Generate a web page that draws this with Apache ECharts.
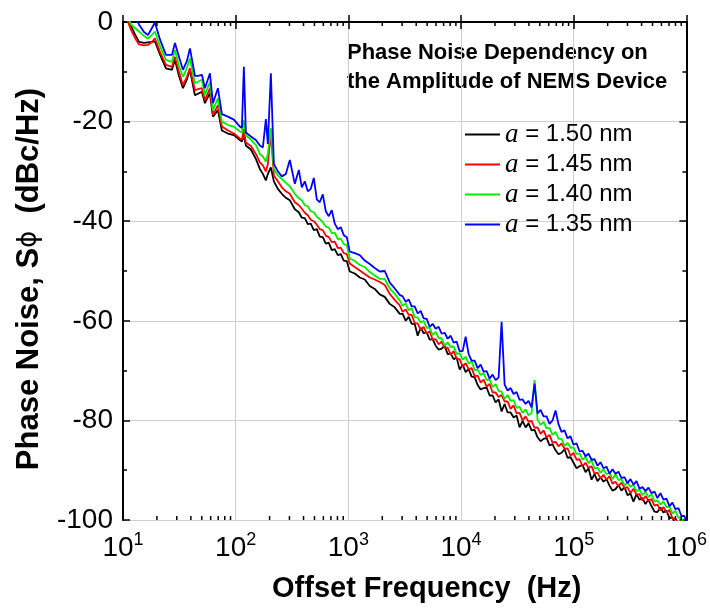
<!DOCTYPE html>
<html><head><meta charset="utf-8">
<script src="https://cdn.jsdelivr.net/npm/echarts@6/dist/echarts.min.js"></script>
<style>html,body{margin:0;padding:0;background:#fff}#c{width:710px;height:608px}</style>
</head><body><div id="c"></div>
<script>
// Offset frequency (Hz)
const freqs = [10, 11.07, 11.77, 12.78, 13.86, 15.36, 16.66, 18.07, 19.21, 21.28,
  24.06, 27.19, 28.91, 31.37, 34.03, 36.93, 39.26, 43.49, 46.23, 50.17,
  53.33, 59.08, 62.81, 69.55, 75.45, 85.29, 96.4, 108.9, 113.5, 118.2,
  123.1, 136.4, 151.1, 163.9, 174.3, 185.3, 193.0, 205.2, 218.2, 236.7,
  256.8, 278.6, 302.3, 334.8,
  363.3, 386.2, 410.6, 436.6, 464.1, 493.4, 524.6, 557.7, 592.9, 630.4,
  670.2, 712.5, 757.5, 805.4, 856.2, 910.3, 967.8,
  1029, 1140, 1262, 1398, 1548, 1714, 1899, 2103, 2328, 2578, 2856,
  3035, 3227, 3431, 3647, 3878, 4123, 4383, 4660, 4954, 5267,
  5600, 5953, 6329, 6729, 7154, 7606, 8086, 8597, 9140, 9717,
  10330, 10983, 11677, 12414, 13198, 14032, 14918, 15860, 16862, 17927,
  19059, 20263, 21543, 22903, 24350, 25888, 27523, 29261, 31109, 33074,
  35163, 37384, 39745, 42255, 44924, 47761, 50778, 53985, 57395, 61020,
  64874, 68971, 73327, 77958, 82882, 88117, 93682, 99599, 105890, 112578,
  119688, 127247, 135284, 143828, 152912, 162570, 172838, 183754, 195360, 207698,
  220816, 234763, 249590, 265354, 282113, 299931, 318874, 339014, 360425, 383189,
  407391, 433121, 460476, 489560, 520480, 553353, 588302, 625458, 664961, 706959,
  751610, 799080, 849550, 903207, 960252, 1000000];

// Phase noise (dBc/Hz), one list per oscillation amplitude
const noise150 = [3.0, 0.8, -0.8, -2.5, -4.0, -4.2, -4.1, -4.0, -3.9, -6.5,
  -9.3, -9.6, -7.6, -10.8, -13.3, -11.5, -9.6, -14.7, -14.4, -14.0,
  -16.3, -14.3, -19.0, -17.7, -21.8, -22.4, -22.7, -23.7, -24.0, -22.8,
  -24.8, -25.6, -27.5, -29.5, -30.5, -31.8, -30.5, -29.2, -32.0, -33.5,
  -34.5, -35.3, -35.8, -37.6,
  -38.2, -39.3, -39.4, -40.6, -40.5, -41.8, -41.6, -43.1, -43.2, -44.5,
  -44.3, -45.8, -45.6, -46.8, -46.6, -47.9, -48.0,
  -50.1, -50.5, -51.3, -51.7, -53.0, -53.6, -54.7, -55.2, -56.6, -57.3, -58.6,
  -58.6, -60.0, -59.2, -60.6, -60.6, -63.0, -61.4, -62.5, -62.3, -63.8,
  -63.7, -65.0, -65.8, -65.6, -65.0, -66.7, -66.6, -67.7, -67.4, -69.8,
  -68.8, -70.3, -69.7, -71.2, -71.3, -72.9, -73.8, -73.5, -73.4, -75.0,
  -75.0, -76.4, -75.8, -78.2, -76.7, -78.4, -78.4, -79.4, -79.0, -81.4,
  -80.1, -81.4, -80.6, -82.0, -81.9, -83.4, -84.2, -83.7, -83.5, -85.0,
  -84.8, -86.0, -86.8, -86.5, -85.8, -87.5, -87.4, -88.5, -89.6, -89.2,
  -89.0, -90.4, -89.6, -91.9, -90.8, -92.2, -91.4, -92.3, -91.8, -93.1,
  -94.1, -93.8, -93.0, -94.1, -93.4, -95.0, -94.7, -96.3, -94.8, -95.9,
  -95.6, -96.8, -95.9, -97.2, -98.3, -98.4, -97.5, -98.5, -98.1, -99.6,
  -99.5, -100.9, -100.3, -101.7, -101.3, -102.8];
const noise145 = [2.5, 0, -1.6, -3.2, -4.5, -4.7, -4.6, -4.0, -3.3, -6.0,
  -8.6, -9.0, -7.0, -10.0, -12.7, -11.0, -9.3, -13.7, -13.5, -13.3,
  -15.7, -13.3, -18.7, -16.7, -21.0, -21.8, -22.4, -23.4, -23.6, -21.5,
  -24.2, -24.9, -26.5, -28.2, -28.8, -30.0, -28.5, -22.3, -30.8, -32.0,
  -33.2, -34.0, -34.5, -36.2,
  -36.8, -37.5, -38.3, -38.8, -39.7, -40.0, -40.7, -41.6, -41.8, -42.9,
  -43.2, -44.2, -44.1, -45.4, -45.3, -46.4, -46.6,
  -48.5, -49.2, -49.9, -50.6, -51.3, -51.7, -52.2, -52.8, -54.6, -55.8, -56.9,
  -58.2, -57.7, -58.8, -58.8, -60.5, -60.5, -61.8, -61.2, -62.6, -62.1,
  -63.8, -63.7, -64.7, -64.2, -65.5, -65.4, -66.8, -66.1, -67.6, -67.7,
  -69.2, -68.5, -69.7, -69.5, -71.1, -71.0, -72.4, -71.8, -73.2, -72.7,
  -74.4, -74.4, -75.3, -74.9, -76.2, -76.2, -77.7, -77.0, -78.6, -78.5,
  -80.0, -79.2, -80.3, -80.1, -81.5, -81.4, -82.7, -82.0, -83.4, -82.9,
  -84.5, -84.3, -85.2, -84.6, -85.7, -85.6, -87.1, -86.5, -87.9, -87.8,
  -89.2, -88.5, -89.5, -89.2, -90.7, -90.5, -91.7, -90.9, -91.9, -91.2,
  -92.7, -92.3, -93.2, -92.5, -93.6, -93.4, -94.6, -93.7, -94.9, -94.8,
  -96.1, -95.2, -96.1, -95.8, -97.1, -96.9, -98.1, -97.4, -98.5, -98.0,
  -99.7, -99.7, -100.7, -100.3, -101.7, -102.2];
const noise140 = [3.5, 0.8, -0.5, -1.2, -1.9, -2.8, -3.3, -2.6, -1.9, -4.8,
  -7.6, -8.0, -5.6, -8.8, -11.0, -9.2, -7.3, -12.3, -12.0, -11.6,
  -14.7, -12.0, -17.7, -15.3, -20.0, -20.7, -21.0, -22.0, -22.2, -19.7,
  -22.8, -23.6, -24.7, -26.5, -27.0, -28.0, -26.5, -21.3, -29.5, -30.8,
  -31.5, -32.3, -33.0, -34.5,
  -35.4, -35.8, -36.8, -37.0, -38.0, -38.2, -39.1, -39.6, -40.2, -41.1,
  -41.3, -42.4, -42.3, -43.6, -43.5, -44.6, -44.8,
  -47.5, -48.0, -48.8, -49.2, -50.2, -50.9, -51.6, -51.6, -53.5, -54.6, -55.9,
  -57.0, -56.5, -57.9, -57.5, -59.3, -59.3, -60.4, -60.0, -61.4, -61.4,
  -62.9, -62.2, -63.5, -63.5, -65.0, -64.3, -65.3, -65.1, -66.7, -66.5,
  -67.8, -67.2, -68.6, -68.1, -69.9, -69.8, -70.9, -70.5, -71.9, -71.8,
  -73.3, -72.7, -74.1, -74.2, -75.7, -74.9, -76.1, -75.9, -77.5, -77.3,
  -78.5, -77.8, -79.0, -78.5, -71.9, -79.9, -80.9, -80.3, -81.6, -81.5,
  -82.9, -82.3, -83.7, -83.7, -85.1, -84.5, -85.5, -85.4, -86.8, -86.6,
  -87.9, -87.3, -88.6, -88.0, -89.7, -89.5, -90.5, -89.8, -90.8, -90.5,
  -91.8, -90.8, -92.0, -91.8, -93.1, -92.4, -93.3, -92.9, -94.2, -93.9,
  -95.0, -94.3, -95.4, -94.8, -96.3, -96.1, -96.9, -96.3, -97.4, -97.3,
  -98.7, -98.1, -99.5, -99.6, -101.2, -101.5];
const noise135 = [5.0, 4.0, 3.0, 1.2, -0.5, -2.0, -2.6, -1.2, -0.1, -3.5,
  -6.6, -6.6, -4.2, -7.0, -9.6, -7.8, -5.3, -10.8, -10.8, -10.6,
  -13.3, -10.3, -16.3, -13.3, -18.5, -19.0, -19.6, -21.0, -21.3, -9.0,
  -22.2, -23.0, -23.7, -24.8, -25.2, -19.5, -24.5, -10.3, -28.5, -30.0,
  -31.0, -30.5, -27.7, -32.5,
  -29.7, -33.2, -32.0, -34.0, -33.5, -31.3, -35.6, -36.2, -34.6, -38.0,
  -39.0, -37.8, -40.5, -41.6, -41.2, -42.8, -43.2,
  -46.1, -46.4, -46.8, -47.9, -48.6, -49.4, -50.1, -50.0, -52.3, -53.5, -54.8,
  -55.1, -56.2, -55.7, -57.1, -57.1, -58.5, -58.0, -59.5, -59.6, -61.2,
  -60.6, -61.6, -61.2, -62.6, -62.4, -63.6, -63.0, -64.4, -64.2, -66.1,
  -66.1, -63.2, -66.7, -68.0, -68.0, -69.5, -68.8, -70.2, -70.1, -71.6,
  -70.8, -71.9, -71.4, -60.2, -72.8, -74.0, -73.5, -74.7, -74.3, -75.9,
  -75.8, -76.7, -76.1, -77.4, -72.6, -78.6, -77.9, -79.2, -79.2, -80.7,
  -80.0, -78.0, -80.8, -82.3, -82.0, -83.6, -83.2, -84.9, -84.6, -86.2,
  -86.1, -87.2, -86.7, -87.9, -87.8, -89.1, -88.4, -89.6, -89.3, -90.7,
  -89.8, -90.7, -90.3, -91.6, -91.4, -92.6, -91.8, -92.9, -92.2, -93.7,
  -93.4, -94.2, -93.5, -94.6, -94.3, -95.6, -94.6, -95.9, -95.7, -97.2,
  -96.5, -97.8, -97.6, -99.2, -99.2, -100.4];

const amplitudes = ['1.50', '1.45', '1.40', '1.35'];
const seriesValues = [noise150, noise145, noise140, noise135];
const colors = ['#000000', '#ff0000', '#00ee00', '#0000ff'];

const xTickExponents = [1, 2, 3, 4, 5, 6];
const yTicks = [0, -20, -40, -60, -80, -100];
const minorMultipliers = [2, 3, 4, 5, 6, 7, 8, 9];
const minorDecades = [10, 100, 1000, 10000, 100000];

seriesValues.forEach((arr, i) => {
  if (arr.length !== freqs.length) throw new Error('length mismatch ' + i + ': ' + arr.length + ' vs ' + freqs.length);
});

const minorTicks = [];
minorDecades.forEach(d => minorMultipliers.forEach(m => minorTicks.push([m * d, -100])));

const SANS = 'Liberation Sans, Arial, Helvetica, sans-serif';
const SERIF = 'Liberation Serif, Times New Roman, serif';

const chart = echarts.init(document.getElementById('c'), null, {renderer: 'canvas'});

const lineSeries = amplitudes.map((a, i) => ({
  name: a,
  type: 'line',
  xAxisIndex: 0, yAxisIndex: 0,
  data: freqs.map((f, k) => [f, seriesValues[i][k]]),
  showSymbol: false, symbol: 'none',
  lineStyle: {color: colors[i], width: 1.8},
  itemStyle: {color: colors[i]},
  clip: true,
  z: 3 + i
}));

const option = {
  animation: false,
  backgroundColor: '#fff',
  grid: {left: 123, right: 23, top: 22, bottom: 88, containLabel: false},
  xAxis: [{
    type: 'log', logBase: 10, min: 10, max: 1000000, position: 'bottom',
    name: 'Offset Frequency  (Hz)', nameLocation: 'middle', nameGap: 54,
    nameTextStyle: {fontFamily: SANS, fontSize: 29, fontWeight: 'bold', color: '#000', padding: [0, 0, 0, 44]},
    axisLine: {show: true, lineStyle: {color: '#000', width: 2}},
    axisTick: {show: true, inside: true, length: 7, lineStyle: {color: '#000', width: 1.5}},
    splitLine: {show: true, lineStyle: {color: '#cfcfcf', width: 1}},
    axisLabel: {
      margin: 11,
      formatter: v => {
        const e = Math.round(Math.log10(v));
        return xTickExponents.indexOf(e) >= 0 ? '{b|10}{s|' + e + '}' : '';
      },
      rich: {
        b: {fontFamily: SANS, fontSize: 28, color: '#000', lineHeight: 34},
        s: {fontFamily: SANS, fontSize: 18, color: '#000', lineHeight: 14, verticalAlign: 'top'}
      }
    }
  }, {
    type: 'log', logBase: 10, min: 10, max: 1000000, position: 'top',
    axisLine: {show: true, lineStyle: {color: '#000', width: 2}},
    axisTick: {show: true, inside: true, length: 7, lineStyle: {color: '#000', width: 1.5}},
    axisLabel: {show: false}, splitLine: {show: false}
  }],
  yAxis: [{
    type: 'value', min: -100, max: 0, interval: 20, position: 'left',
    name: '{b|Phase Noise, S}{p|ϕ}{b|  (dBc/Hz)}', nameLocation: 'middle', nameGap: 78, nameRotate: 90,
    nameTextStyle: {padding: [0, 16, 0, 0], rich: {
      b: {fontFamily: SANS, fontSize: 31, fontWeight: 'bold', color: '#000'},
      p: {fontFamily: 'DejaVu Sans, sans-serif', fontSize: 26, fontWeight: 'normal', color: '#000'}
    }},
    axisLine: {show: true, lineStyle: {color: '#000', width: 2}},
    axisTick: {show: true, inside: true, length: 7, lineStyle: {color: '#000', width: 1.5}},
    minorTick: {show: true, splitNumber: 2, length: 4, lineStyle: {color: '#000', width: 1.5}},
    splitLine: {show: true, lineStyle: {color: '#cfcfcf', width: 1}},
    axisLabel: {margin: 10, fontFamily: SANS, fontSize: 28, color: '#000',
      formatter: v => yTicks.indexOf(v) >= 0 ? String(v) : ''}
  }, {
    type: 'value', min: -100, max: 0, interval: 20, position: 'right',
    axisLine: {show: true, lineStyle: {color: '#000', width: 2}},
    axisTick: {show: true, inside: true, length: 7, lineStyle: {color: '#000', width: 1.5}},
    minorTick: {show: true, splitNumber: 2, length: 4, lineStyle: {color: '#000', width: 1.5}},
    axisLabel: {show: false}, splitLine: {show: false}
  }],
  legend: {
    data: amplitudes,
    orient: 'vertical', left: 460, top: 116,
    itemWidth: 35, itemHeight: 14, itemGap: 3,
    icon: 'path://M0,6 L35,6 L35,8 L0,8 Z',
    formatter: name => '{i|a}{t| = ' + name + ' nm}',
    textStyle: {
      padding: [0, 0, 0, 0],
      rich: {
        i: {fontFamily: SERIF, fontStyle: 'italic', fontSize: 27, color: '#000', lineHeight: 28},
        t: {fontFamily: SANS, fontSize: 24, color: '#000', lineHeight: 28}
      }
    },
    selectedMode: false
  },
  graphic: [{
    type: 'text', left: 347, top: 38, silent: true,
    style: {text: 'Phase Noise Dependency on\nthe Amplitude of NEMS Device',
      fontFamily: SANS, fontSize: 22, fontWeight: 'bold', fill: '#000', lineHeight: 29}
  }],
  series: lineSeries.concat([{
    type: 'custom', name: 'minor', xAxisIndex: 0, yAxisIndex: 0,
    data: minorTicks, encode: {x: 0, y: 1}, silent: true, clip: false, z: 10,
    renderItem: (params, api) => {
      const f = api.value(0);
      const pb = api.coord([f, -100]);
      const pt = api.coord([f, 0]);
      return {type: 'group', children: [
        {type: 'line', shape: {x1: pb[0], y1: pb[1], x2: pb[0], y2: pb[1] - 4}, style: {stroke: '#000', lineWidth: 1.5}},
        {type: 'line', shape: {x1: pt[0], y1: pt[1], x2: pt[0], y2: pt[1] + 4}, style: {stroke: '#000', lineWidth: 1.5}}
      ]};
    }
  }])
};
chart.setOption(option);
</script></body></html>
